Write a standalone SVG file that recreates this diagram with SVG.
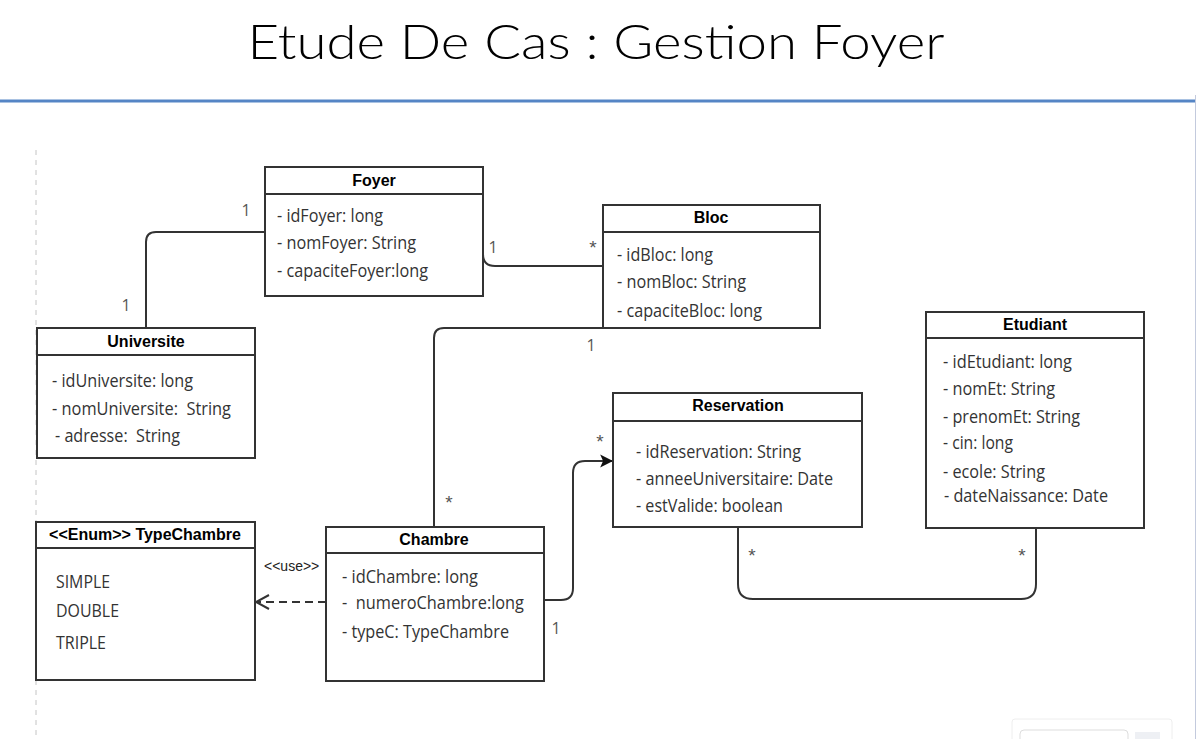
<svg xmlns="http://www.w3.org/2000/svg" width="1196" height="739" viewBox="0 0 1196 739">
<style>
.box{fill:#fff;stroke:#333;stroke-width:2}
.dv{stroke:#333;stroke-width:2}
.hd{font-family:"Liberation Sans",Arial,sans-serif;font-weight:bold;font-size:16px;fill:#000;text-anchor:middle}
.at{font-family:"Open Sans","Noto Sans",sans-serif;font-size:19px;fill:#333}
.ln{fill:none;stroke:#333;stroke-width:2}
.dash{fill:none;stroke:#333;stroke-width:2;stroke-dasharray:8,5}
.m1{font-family:"Open Sans","Noto Sans",sans-serif;font-size:16px;fill:#555;text-anchor:middle}
.ms{font-family:"Liberation Sans",Arial,sans-serif;font-size:19px;fill:#555;text-anchor:middle}
.use{font-family:"Liberation Sans",Arial,sans-serif;font-size:14px;fill:#222}
</style>
<defs>
<marker id="arr" markerUnits="userSpaceOnUse" markerWidth="14" markerHeight="14" viewBox="0 0 12 12" refX="11" refY="6" orient="auto">
<path d="M0,0.5 L11,6 L0,11.5 L2.5,6 Z" fill="#111"/>
</marker>
</defs>
<rect width="1196" height="739" fill="#fff"/>
<g id="title">
<text x="596" y="59" font-family="Lato,'Open Sans',sans-serif" font-size="47" font-weight="300" fill="#000" text-anchor="middle" textLength="697" lengthAdjust="spacingAndGlyphs">Etude De Cas : Gestion Foyer</text>
<line x1="0" y1="101" x2="1196" y2="101" stroke="#5585c5" stroke-width="3"/>
</g>
<g id="frame">
<line x1="36" y1="150" x2="36" y2="739" stroke="#c4c4c4" stroke-width="1" stroke-dasharray="5,5"/>
<line x1="1195.5" y1="95" x2="1195.5" y2="739" stroke="#c3cadd" stroke-width="1"/>
<rect x="1012" y="719" width="160" height="30" rx="3" fill="#fff" stroke="#eeeeee"/>
<rect x="1020" y="730" width="108" height="20" rx="4" fill="#fff" stroke="#dddddd"/>
<rect x="1135" y="732" width="25" height="10" fill="#eef0f4"/>
</g>
<g id="connectors">
<path class="ln" d="M265,232 H156 Q146,232 146,242 V328"/>
<path class="ln" d="M483,254 Q483,266 495,266 H603"/>
<path class="ln" d="M603,328 H444 Q434,328 434,338 V527"/>
<path class="ln" d="M532,600 H561 Q573,600 573,588 V473 Q573,461 585,461 H613" marker-end="url(#arr)"/>
<path class="ln" d="M738,527 V584 Q738,599 753,599 H1021 Q1036,599 1036,584 V528"/>
<path class="dash" d="M326,602 H258"/>
<polyline class="ln" points="269,595 256,602 269,609"/>
<text class="use" x="264" y="571">&lt;&lt;use&gt;&gt;</text>
<text class="m1" x="246" y="216">1</text>
<text class="m1" x="126" y="311">1</text>
<text class="m1" x="493" y="253">1</text>
<text class="ms" x="593" y="254">*</text>
<text class="m1" x="591" y="351">1</text>
<text class="ms" x="449" y="509">*</text>
<text class="ms" x="600" y="448">*</text>
<text class="m1" x="556" y="634">1</text>
<text class="ms" x="752" y="562">*</text>
<text class="ms" x="1022" y="562">*</text>
</g>
<g id="Foyer">
<rect class="box" x="265" y="167" width="218" height="129"/>
<line class="dv" x1="265" y1="194" x2="483" y2="194"/>
<text class="hd" x="374" y="186">Foyer</text>
<text class="at" x="277" y="222" textLength="106" lengthAdjust="spacingAndGlyphs">- idFoyer: long</text>
<text class="at" x="277" y="249" textLength="139" lengthAdjust="spacingAndGlyphs">- nomFoyer: String</text>
<text class="at" x="277" y="277" textLength="151" lengthAdjust="spacingAndGlyphs">- capaciteFoyer:long</text>
</g>
<g id="Universite">
<rect class="box" x="37" y="328" width="218" height="130"/>
<line class="dv" x1="37" y1="355" x2="255" y2="355"/>
<text class="hd" x="146" y="347">Universite</text>
<text class="at" x="52" y="387" textLength="141" lengthAdjust="spacingAndGlyphs">- idUniversite: long</text>
<text class="at" x="52" y="415" textLength="179" lengthAdjust="spacingAndGlyphs" xml:space="preserve">- nomUniversite:  String</text>
<text class="at" x="55" y="442" textLength="125" lengthAdjust="spacingAndGlyphs" xml:space="preserve">- adresse:  String</text>
</g>
<g id="Bloc">
<rect class="box" x="603" y="205" width="217" height="123"/>
<line class="dv" x1="603" y1="232" x2="820" y2="232"/>
<text class="hd" x="711" y="223">Bloc</text>
<text class="at" x="617" y="261" textLength="96" lengthAdjust="spacingAndGlyphs">- idBloc: long</text>
<text class="at" x="617" y="288" textLength="129" lengthAdjust="spacingAndGlyphs">- nomBloc: String</text>
<text class="at" x="617" y="317" textLength="145" lengthAdjust="spacingAndGlyphs">- capaciteBloc: long</text>
</g>
<g id="Reservation">
<rect class="box" x="613" y="393" width="249" height="134"/>
<line class="dv" x1="613" y1="421" x2="862" y2="421"/>
<text class="hd" x="738" y="411">Reservation</text>
<text class="at" x="636" y="458" textLength="165" lengthAdjust="spacingAndGlyphs">- idReservation: String</text>
<text class="at" x="636" y="485" textLength="197" lengthAdjust="spacingAndGlyphs">- anneeUniversitaire: Date</text>
<text class="at" x="636" y="512" textLength="147" lengthAdjust="spacingAndGlyphs">- estValide: boolean</text>
</g>
<g id="Etudiant">
<rect class="box" x="926" y="312" width="218" height="216"/>
<line class="dv" x1="926" y1="338" x2="1144" y2="338"/>
<text class="hd" x="1035" y="330">Etudiant</text>
<text class="at" x="943" y="368" textLength="129" lengthAdjust="spacingAndGlyphs">- idEtudiant: long</text>
<text class="at" x="943" y="395" textLength="112" lengthAdjust="spacingAndGlyphs">- nomEt: String</text>
<text class="at" x="943" y="423" textLength="137" lengthAdjust="spacingAndGlyphs">- prenomEt: String</text>
<text class="at" x="943" y="449" textLength="70" lengthAdjust="spacingAndGlyphs">- cin: long</text>
<text class="at" x="943" y="478" textLength="102" lengthAdjust="spacingAndGlyphs">- ecole: String</text>
<text class="at" x="944" y="502" textLength="164" lengthAdjust="spacingAndGlyphs">- dateNaissance: Date</text>
</g>
<g id="TypeChambre">
<rect class="box" x="36" y="522" width="219" height="158"/>
<line class="dv" x1="36" y1="548" x2="255" y2="548"/>
<text class="hd" x="145" y="540">&lt;&lt;Enum&gt;&gt; TypeChambre</text>
<text class="at" x="56" y="588" textLength="54" lengthAdjust="spacingAndGlyphs">SIMPLE</text>
<text class="at" x="56" y="617" textLength="63" lengthAdjust="spacingAndGlyphs">DOUBLE</text>
<text class="at" x="56" y="649" textLength="50" lengthAdjust="spacingAndGlyphs">TRIPLE</text>
</g>
<g id="Chambre">
<rect class="box" x="326" y="527" width="218" height="154"/>
<line class="dv" x1="326" y1="553" x2="544" y2="553"/>
<text class="hd" x="434" y="545">Chambre</text>
<text class="at" x="342" y="583" textLength="136" lengthAdjust="spacingAndGlyphs">- idChambre: long</text>
<text class="at" x="342" y="609" textLength="182" lengthAdjust="spacingAndGlyphs" xml:space="preserve">-  numeroChambre:long</text>
<text class="at" x="342" y="638" textLength="167" lengthAdjust="spacingAndGlyphs">- typeC: TypeChambre</text>
</g>
</svg>
